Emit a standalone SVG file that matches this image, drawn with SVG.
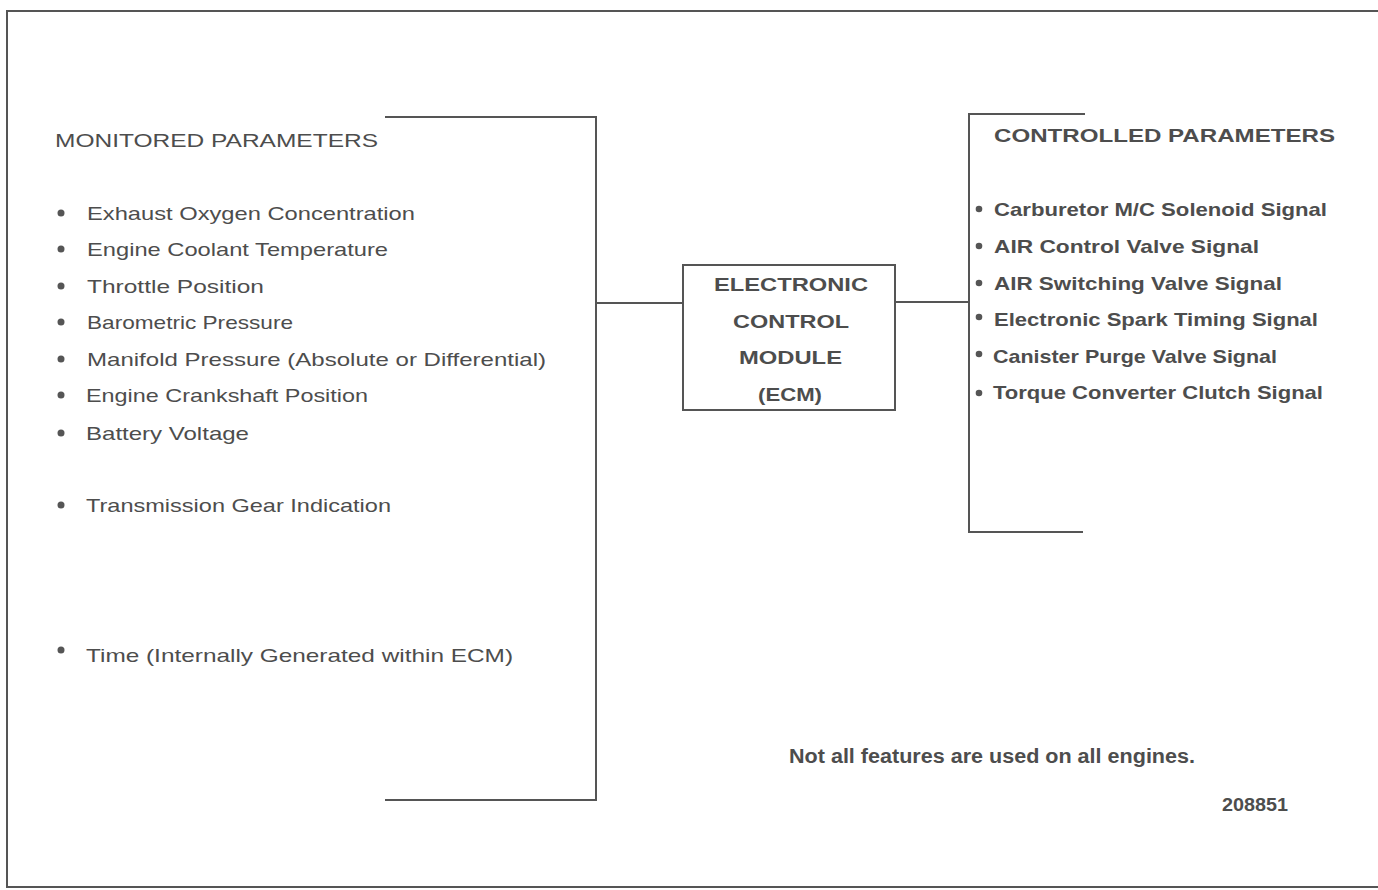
<svg xmlns="http://www.w3.org/2000/svg" width="1378" height="890" viewBox="0 0 1378 890">
<style>
.ln{stroke:#555;stroke-width:2;fill:none}
.t{font-family:"Liberation Sans",Arial,sans-serif;font-size:19px;fill:#4d4d4d}
.b{font-weight:bold}
.bul{fill:#555}
</style>
<rect width="1378" height="890" fill="#fff"/>
<g id="frame"><path class="ln" d="M1378,11 H7 V887 H1378"/></g>
<g id="monitored">
<path class="ln" d="M385,117 H596 V800 H385"/>
<text class="t" x="55" y="147" textLength="323" lengthAdjust="spacingAndGlyphs">MONITORED PARAMETERS</text>
<g class="bul"><circle cx="61" cy="213" r="3.5"/><circle cx="61" cy="249" r="3.5"/><circle cx="61" cy="286" r="3.5"/><circle cx="61" cy="322" r="3.5"/><circle cx="61" cy="359" r="3.5"/><circle cx="61" cy="395" r="3.5"/><circle cx="61" cy="433" r="3.5"/><circle cx="61" cy="505" r="3.5"/><circle cx="61" cy="650" r="3.5"/></g>
<text class="t" x="87" y="220" textLength="328" lengthAdjust="spacingAndGlyphs">Exhaust Oxygen Concentration</text>
<text class="t" x="87" y="256" textLength="301" lengthAdjust="spacingAndGlyphs">Engine Coolant Temperature</text>
<text class="t" x="87" y="293" textLength="177" lengthAdjust="spacingAndGlyphs">Throttle Position</text>
<text class="t" x="87" y="329" textLength="206" lengthAdjust="spacingAndGlyphs">Barometric Pressure</text>
<text class="t" x="87" y="366" textLength="459" lengthAdjust="spacingAndGlyphs">Manifold Pressure (Absolute or Differential)</text>
<text class="t" x="86" y="402" textLength="282" lengthAdjust="spacingAndGlyphs">Engine Crankshaft Position</text>
<text class="t" x="86" y="440" textLength="163" lengthAdjust="spacingAndGlyphs">Battery Voltage</text>
<text class="t" x="86" y="512" textLength="305" lengthAdjust="spacingAndGlyphs">Transmission Gear Indication</text>
<text class="t" x="86" y="662" textLength="427" lengthAdjust="spacingAndGlyphs">Time (Internally Generated within ECM)</text>
</g>
<g id="ecm">
<rect class="ln" x="683" y="265" width="212" height="145"/>
<text class="t b" x="714" y="291" textLength="154" lengthAdjust="spacingAndGlyphs">ELECTRONIC</text>
<text class="t b" x="733" y="328" textLength="116" lengthAdjust="spacingAndGlyphs">CONTROL</text>
<text class="t b" x="739" y="364" textLength="103" lengthAdjust="spacingAndGlyphs">MODULE</text>
<text class="t b" x="758" y="401" textLength="64" lengthAdjust="spacingAndGlyphs">(ECM)</text>
</g>
<g id="controlled">
<path class="ln" d="M1085,114 H969 V532 H1083"/>
<text class="t b" x="994" y="142" textLength="341" lengthAdjust="spacingAndGlyphs">CONTROLLED PARAMETERS</text>
<g class="bul"><circle cx="979" cy="209" r="3.3"/><circle cx="979" cy="246" r="3.3"/><circle cx="979" cy="283" r="3.3"/><circle cx="979" cy="317" r="3.3"/><circle cx="979" cy="354" r="3.3"/><circle cx="979" cy="393" r="3.3"/></g>
<text class="t b" x="994" y="216" textLength="333" lengthAdjust="spacingAndGlyphs">Carburetor M/C Solenoid Signal</text>
<text class="t b" x="994" y="253" textLength="265" lengthAdjust="spacingAndGlyphs">AIR Control Valve Signal</text>
<text class="t b" x="994" y="290" textLength="288" lengthAdjust="spacingAndGlyphs">AIR Switching Valve Signal</text>
<text class="t b" x="994" y="326" textLength="324" lengthAdjust="spacingAndGlyphs">Electronic Spark Timing Signal</text>
<text class="t b" x="993" y="363" textLength="284" lengthAdjust="spacingAndGlyphs">Canister Purge Valve Signal</text>
<text class="t b" x="993" y="399" textLength="330" lengthAdjust="spacingAndGlyphs">Torque Converter Clutch Signal</text>
</g>
<g id="connectors">
<line class="ln" x1="596" y1="303" x2="683" y2="303"/>
<line class="ln" x1="895" y1="302" x2="969" y2="302"/>
</g>
<g id="notes">
<text class="t b" x="789" y="763" style="font-size:20px" textLength="406" lengthAdjust="spacingAndGlyphs">Not all features are used on all engines.</text>
<text class="t b" x="1222" y="811" style="font-size:19px" textLength="66" lengthAdjust="spacingAndGlyphs">208851</text>
</g>
</svg>
